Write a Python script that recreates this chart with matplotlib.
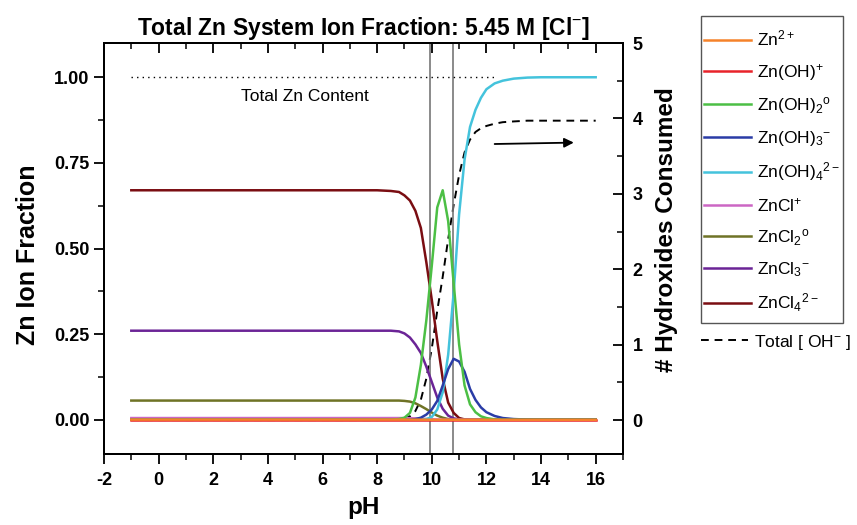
import matplotlib
matplotlib.use("Agg")
import matplotlib.pyplot as plt
from matplotlib.patches import Rectangle
from matplotlib.ticker import MultipleLocator

plt.rcParams["font.family"] = ["Liberation Sans", "DejaVu Sans"]
plt.rcParams["mathtext.fontset"] = "custom"
plt.rcParams["mathtext.rm"] = "Liberation Sans"
plt.rcParams["mathtext.it"] = "Liberation Sans:italic"
plt.rcParams["mathtext.bf"] = "Liberation Sans:bold"
plt.rcParams["axes.unicode_minus"] = False

# pH grid shared by all species
PH = [-1, 0, 2, 4, 6, 8, 8.5, 8.8, 9.0, 9.2, 9.4, 9.6, 9.8, 10.0, 10.2, 10.4,
      10.6, 10.8, 11.0, 11.2, 11.4, 11.6, 11.8, 12.0, 12.3, 12.6, 13.0, 13.5,
      14, 15, 16]

ZN = [0.0005] * 8 + [0.0005, 0.0004, 0.0003, 0.0002, 0.0001] + [0.0] * 18
ZNOH = [0.0] * 31
ZNOH2 = [0.0] * 7 + [0.002, 0.006, 0.02, 0.065, 0.16, 0.29, 0.45, 0.62, 0.67,
                     0.58, 0.40, 0.22, 0.10, 0.045, 0.022, 0.01, 0.005, 0.001,
                     0.0, 0.0, 0.0, 0.0, 0.0, 0.0]
ZNOH3 = [0.0] * 10 + [0.002, 0.006, 0.015, 0.03, 0.055, 0.10, 0.148, 0.178,
                      0.17, 0.14, 0.09, 0.058, 0.036, 0.022, 0.011, 0.005,
                      0.002, 0.0005, 0.0, 0.0, 0.0]
ZNOH4 = [0.0] * 12 + [0.002, 0.008, 0.03, 0.08, 0.19, 0.37, 0.60, 0.76, 0.855,
                      0.905, 0.94, 0.965, 0.982, 0.99, 0.996, 0.999, 1.0, 1.0,
                      1.0]
ZNCL = [0.005] * 8 + [0.0048, 0.0045, 0.004, 0.0032, 0.0022, 0.0014, 0.0007,
                      0.0003, 0.0001] + [0.0] * 14
ZNCL2 = [0.056] * 8 + [0.055, 0.053, 0.048, 0.04, 0.031, 0.021, 0.012, 0.006,
                       0.002, 0.0] + [0.0] * 13
ZNCL3 = [0.26] * 7 + [0.258, 0.252, 0.24, 0.22, 0.195, 0.155, 0.11, 0.065,
                      0.032, 0.012, 0.004, 0.001] + [0.0] * 12
ZNCL4 = [0.67] * 6 + [0.668, 0.665, 0.655, 0.64, 0.61, 0.56, 0.46, 0.35, 0.23,
                      0.12, 0.05, 0.02, 0.005, 0.001] + [0.0] * 11
TOTAL_OH = [0.0] * 6 + [0.003, 0.01, 0.02, 0.05, 0.12, 0.27, 0.55, 0.95, 1.45,
                        1.9, 2.4, 2.85, 3.25, 3.55, 3.72, 3.82, 3.87, 3.9, 3.93,
                        3.95, 3.96, 3.97, 3.97, 3.97, 3.97]

TOTAL_ZN_PH = [-1, 12.3]
TOTAL_ZN = [1.0, 1.0]
MARKER_PH = [9.92, 10.77]

SPECIES = [
    (r"Zn$^{2+}$", ZN, "#f5822a"),
    (r"Zn(OH)$^{+}$", ZNOH, "#e8232a"),
    (r"Zn(OH)$_2$$^{\rm o}$", ZNOH2, "#4cbf45"),
    (r"Zn(OH)$_3$$^{-}$", ZNOH3, "#2a3ca6"),
    (r"Zn(OH)$_4$$^{2-}$", ZNOH4, "#44c3dc"),
    (r"ZnCl$^{+}$", ZNCL, "#cc66c4"),
    (r"ZnCl$_2$$^{\rm o}$", ZNCL2, "#6f7326"),
    (r"ZnCl$_3$$^{-}$", ZNCL3, "#6b2496"),
    (r"ZnCl$_4$$^{2-}$", ZNCL4, "#7a0d12"),
]


def main():
    fig = plt.figure(figsize=(8.57, 5.25), dpi=100)
    ax = fig.add_axes([104 / 857, 1 - 454 / 525, 519 / 857, 411 / 525])
    ax2 = ax.twinx()

    for x in MARKER_PH:
        ax.axvline(x, color="#777777", linewidth=1.2, zorder=1)

    ax.plot(TOTAL_ZN_PH, TOTAL_ZN, color="black", linestyle=(0, (1, 3)),
            linewidth=1.0, zorder=2)
    ax.text(5.35, 0.945, "Total Zn Content", fontsize=12.5, ha="center",
            va="center")

    handles = []
    # orange drawn on top so it sits over the baseline
    for label, vals, color in SPECIES[::-1]:
        h, = ax.plot(PH, vals, color=color, linewidth=1.8, label=label,
                     zorder=4 if label.startswith("Zn$") else 3)
        handles.append(h)
    handles = handles[::-1]

    oh, = ax2.plot(PH, TOTAL_OH, color="black", linestyle=(0, (4, 3)),
                   linewidth=1.4, label=r"Total [ OH$^{-}$ ]")
    ax2.annotate("", xy=(15.3, 3.68), xytext=(12.2, 3.66),
                 arrowprops=dict(arrowstyle="-|>", color="black", lw=1.3,
                                 mutation_scale=14))

    ax.set_xlim(-2, 17)
    ax.set_ylim(-0.1, 1.1)
    ax2.set_ylim(-0.45, 5)
    ax.set_zorder(ax2.get_zorder() + 1)
    ax.patch.set_visible(False)

    ax.xaxis.set_major_locator(MultipleLocator(2))
    ax.xaxis.set_minor_locator(MultipleLocator(1))
    ax.yaxis.set_minor_locator(MultipleLocator(0.125))
    ax2.yaxis.set_minor_locator(MultipleLocator(0.5))
    ax.set_yticks([0, 0.25, 0.5, 0.75, 1.0])
    ax.set_yticklabels(["0.00", "0.25", "0.50", "0.75", "1.00"])
    ax2.set_yticks([0, 1, 2, 3, 4, 5])

    ax.tick_params(axis="x", which="both", direction="out", labelsize=13,
                   pad=6)
    ax.tick_params(axis="x", which="major", length=7, width=1.3)
    ax.tick_params(axis="x", which="minor", length=4, width=1.1)
    ax.tick_params(axis="y", which="major", direction="out", length=7,
                   width=1.3, labelsize=13)
    ax.tick_params(axis="y", which="minor", direction="out", length=4,
                   width=1.1)
    ax2.tick_params(axis="y", which="major", direction="in", length=7,
                    width=1.3, labelsize=13, pad=7)
    ax2.tick_params(axis="y", which="minor", direction="in", length=4,
                    width=1.1)

    top = ax.secondary_xaxis("top")
    top.xaxis.set_major_locator(MultipleLocator(2))
    top.xaxis.set_minor_locator(MultipleLocator(1))
    top.tick_params(which="both", direction="in", labeltop=False)
    top.tick_params(which="major", length=7, width=1.3)
    top.tick_params(which="minor", length=4, width=1.1)

    for lab in ax.get_xticklabels() + ax.get_yticklabels() + ax2.get_yticklabels():
        lab.set_fontweight("bold")
    for sp in list(ax.spines.values()) + list(ax2.spines.values()) + list(top.spines.values()):
        sp.set_linewidth(1.4)

    ax.set_xlabel("pH", fontsize=17.5, fontweight="bold", labelpad=5)
    ax.set_ylabel("Zn Ion Fraction", fontsize=18, fontweight="bold",
                  labelpad=10)
    ax.yaxis.label.set_y(0.485)
    ax2.set_ylabel("# Hydroxides Consumed", fontsize=17.5, fontweight="bold",
                   labelpad=9)
    ax2.yaxis.label.set_y(0.545)
    ax.set_title(r"Total Zn System Ion Fraction: 5.45 M [Cl$^{-}$]",
                 fontsize=16.5, fontweight="bold", pad=6)

    # legend frame drawn separately so its padding can be matched
    fig.patches.append(Rectangle((701 / 857, 1 - 323 / 525), 142 / 857,
                                 307 / 525, transform=fig.transFigure,
                                 fill=False, edgecolor="#555555",
                                 linewidth=1.0))
    fig.legend(handles=handles, loc="upper left",
               bbox_to_anchor=(704 / 857, 1 - 29 / 525), fontsize=12.5,
               frameon=False, handlelength=2.7, handletextpad=0.35,
               labelspacing=0.73, borderpad=0, borderaxespad=0)
    fig.legend(handles=[oh], loc="center left",
               bbox_to_anchor=(701 / 857, 1 - 342 / 525), fontsize=12.5,
               frameon=False, handlelength=2.7, handletextpad=0.35,
               borderpad=0, borderaxespad=0)

    fig.savefig("out.png", dpi=100)
    plt.close(fig)


if __name__ == "__main__":
    main()
